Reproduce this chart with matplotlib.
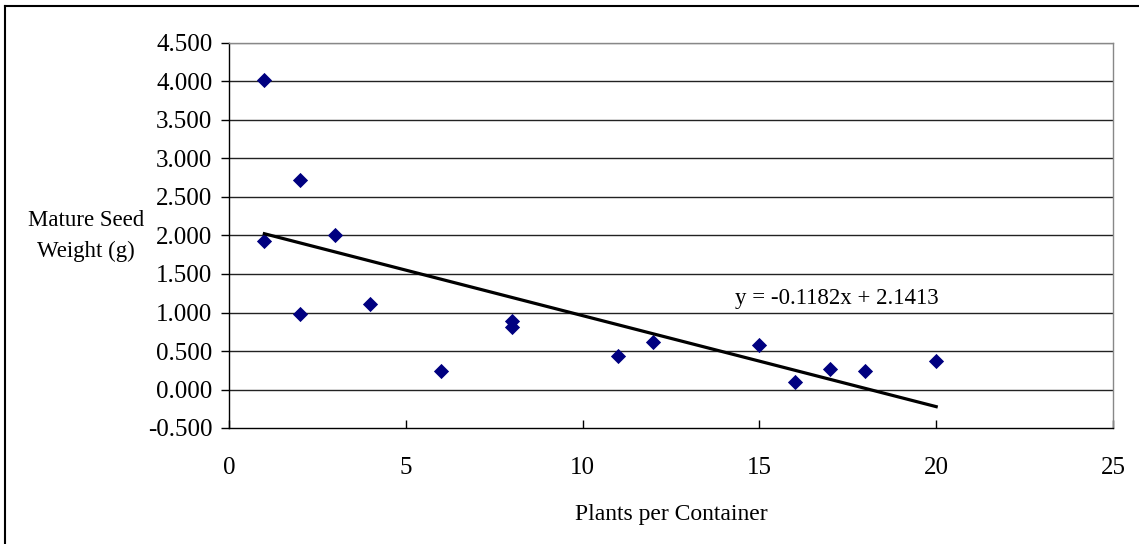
import matplotlib
matplotlib.use("Agg")
import matplotlib.pyplot as plt
import numpy as np
from matplotlib.lines import Line2D
from matplotlib.ticker import FormatStrFormatter

# plants per container vs mature seed weight (g)
plants = [1, 1, 2, 2, 3, 4, 6, 8, 8, 11, 12, 15, 16, 17, 18, 20]
seed_weight = [4.02, 1.93, 2.72, 0.98, 2.00, 1.11, 0.24, 0.89, 0.81,
               0.44, 0.62, 0.58, 0.10, 0.26, 0.24, 0.37]

# linear trendline as printed on the chart
slope = -0.1182
intercept = 2.1413

y_ticks = [-0.5, 0.0, 0.5, 1.0, 1.5, 2.0, 2.5, 3.0, 3.5, 4.0, 4.5]
x_ticks = [0, 5, 10, 15, 20, 25]


def main():
    plt.rcParams['font.family'] = ['Liberation Serif', 'DejaVu Serif']
    plt.rcParams['font.size'] = 17

    fig = plt.figure(figsize=(11.39, 5.44), dpi=100)
    ax = fig.add_axes([229 / 1139, 1 - 428 / 544, (1113 - 229) / 1139, (428 - 43) / 544])

    for y in y_ticks[1:]:
        ax.axhline(y, color='#222222' if y < 4.5 else '#888888', lw=1.0, zorder=1)

    ax.scatter(plants, seed_weight, marker='D', s=60, color='#000080', zorder=3,
               linewidths=0)

    xs = np.array([min(plants), max(plants)])
    ax.plot(xs, slope * xs + intercept, color='black', lw=2.3, zorder=4)

    ax.text(14.3, 1.18, "y = -0.1182x + 2.1413", ha='left', va='center', fontsize=16.5)

    ax.set_xlim(0, 25)
    ax.set_ylim(-0.5, 4.5)
    ax.set_xticks(x_ticks)
    ax.set_yticks(y_ticks)
    ax.yaxis.set_major_formatter(FormatStrFormatter('%.3f'))

    ax.tick_params(axis='both', labelsize=18)
    ax.tick_params(axis='x', direction='in', length=6, width=1, pad=21)
    ax.tick_params(axis='y', direction='out', length=6, width=1, pad=6)

    ax.spines['left'].set_color('black')
    ax.spines['bottom'].set_color('black')
    ax.spines['right'].set_color('#888888')
    ax.spines['top'].set_color('#888888')
    for s in ax.spines.values():
        s.set_linewidth(1.0)

    ax.set_xlabel("Plants per Container", labelpad=18)
    fig.text(86 / 1139, 1 - 236 / 544, "Mature Seed\nWeight (g)", ha='center', va='center',
             multialignment='center', linespacing=1.65, fontsize=16.5)

    # chart border (left and top edges visible)
    fig.add_artist(Line2D([5 / 1139, 5 / 1139], [0, 1 - 6 / 544], transform=fig.transFigure,
                          color='black', lw=1.5))
    fig.add_artist(Line2D([5 / 1139, 1], [1 - 6 / 544, 1 - 6 / 544], transform=fig.transFigure,
                          color='black', lw=1.5))

    fig.savefig("out.png", dpi=100)


if __name__ == '__main__':
    main()
